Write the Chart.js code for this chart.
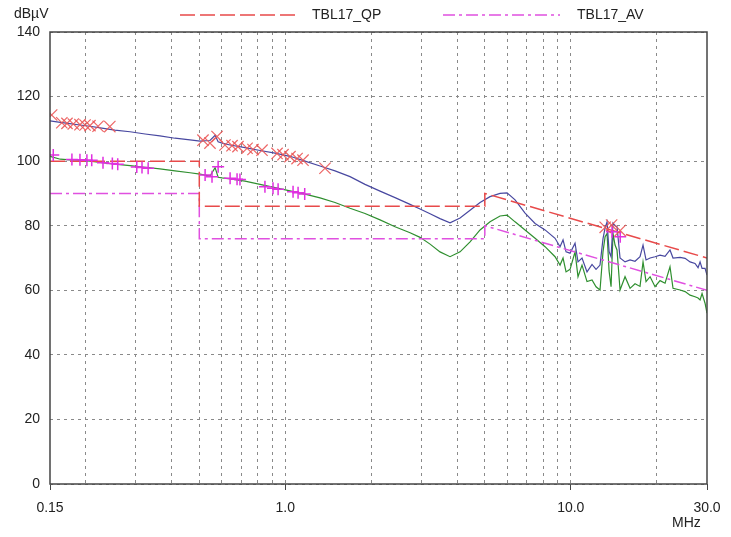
<!DOCTYPE html>
<html>
<head>
<meta charset="utf-8">
<script src="https://cdn.jsdelivr.net/npm/chart.js@4/dist/chart.umd.min.js"></script>
<style>
  html, body { margin: 0; padding: 0; background: #fff; }
  #wrap { position: relative; width: 731px; height: 537px; }
</style>
</head>
<body>
<div id="wrap"><canvas id="emi"></canvas></div>
<script>
// ==== data ====
// scan frequencies, MHz
const freqMHz = [
  0.150, 0.163, 0.176, 0.191, 0.207, 0.225, 0.253, 0.286, 0.323, 0.364,
  0.411, 0.464, 0.503, 0.545, 0.568, 0.582, 0.601, 0.641, 0.723, 0.816,
  0.921, 1.039, 1.173, 1.324, 1.494, 1.686, 1.903, 2.148, 2.424, 2.736,
  2.966, 3.215, 3.484, 3.777, 4.095, 4.439, 4.811, 5.215, 5.653, 5.982,
  6.381, 6.917, 7.499, 8.127, 8.810, 9.171, 9.396, 9.627, 9.943, 10.35,
  10.60, 10.95, 11.40, 11.87, 12.26, 12.66, 12.97, 13.19, 13.40, 13.62,
  13.84, 14.06, 14.29, 14.52, 14.88, 15.49, 16.13, 16.79, 17.48, 17.91,
  18.35, 18.96, 19.73, 20.54, 21.39, 22.26, 22.81, 24.15, 25.14, 26.17,
  27.24, 27.91, 28.37, 28.83, 29.53, 30.0
];
// blue trace (peak), dBµV
const peakDb = [
  112.5, 112.0, 111.6, 111.2, 110.8, 110.3, 109.6, 109.1, 108.4, 107.8,
  107.1, 106.6, 106.2, 106.4, 108.0, 106.0, 105.6, 105.0, 104.2, 103.3,
  102.5, 101.5, 100.0, 98.5, 97.0, 95.2, 92.8, 90.7, 88.7, 86.6,
  85.2, 83.7, 82.2, 80.9, 82.4, 84.8, 87.2, 89.0, 90.0, 90.2,
  88.0, 83.9, 80.7, 78.7, 76.1, 73.5, 75.6, 71.9, 71.5, 74.6,
  68.8, 70.0, 65.7, 68.0, 66.5, 67.8, 76.0, 79.3, 81.2, 72.0,
  70.4, 80.8, 80.0, 79.7, 70.0, 68.8, 69.4, 69.0, 70.4, 74.0,
  69.4, 70.0, 70.4, 70.9, 70.5, 72.5, 70.0, 70.2, 69.9, 68.8,
  68.3, 67.0, 68.8, 66.8, 66.8, 64.7
];
// green trace (average), dBµV
const avgDb = [
  101.5, 100.6, 100.4, 100.3, 100.0, 99.6, 99.1, 98.6, 98.1, 97.6,
  97.0, 96.4, 96.0, 95.4, 98.0, 95.0, 94.8, 94.5, 93.8, 92.8,
  91.8, 90.8, 89.8, 88.6, 87.2, 85.4, 83.8, 81.8, 79.7, 77.8,
  76.4, 74.3, 71.9, 70.4, 71.9, 75.0, 78.7, 81.2, 83.0, 83.3,
  81.2, 78.7, 76.1, 73.5, 70.4, 67.8, 70.0, 65.7, 66.5, 71.9,
  64.2, 67.8, 62.7, 63.2, 61.1, 60.1, 72.0, 76.6, 77.6, 66.0,
  61.1, 77.6, 74.0, 72.5, 60.1, 64.2, 60.6, 62.0, 61.2, 68.8,
  62.7, 64.2, 61.1, 63.0, 62.2, 67.3, 60.6, 60.1, 59.6, 58.5,
  58.0, 57.6, 57.0, 59.0, 56.0, 52.9
];

// limit lines
const qpLimitFreq = [0.15, 0.5, 0.5, 5, 5, 30];
const qpLimitDb   = [100, 100, 86, 86, 90, 70];
const avLimitFreq = [0.15, 0.5, 0.5, 5, 5, 30];
const avLimitDb   = [90, 90, 76, 76, 80, 60];

// final measurement markers
const qpMarkFreq = [0.152, 0.165, 0.172, 0.181, 0.191, 0.199, 0.207, 0.221, 0.243,
  0.515, 0.545, 0.577, 0.615, 0.651, 0.683, 0.735, 0.771, 0.829, 0.936,
  0.982, 1.039, 1.100, 1.154, 1.378, 13.2, 13.9, 14.9];
const qpMarkDb = [114.3, 111.9, 111.7, 111.5, 111.3, 111.2, 111.0, 110.8, 110.7,
  106.5, 105.6, 107.6, 105.0, 104.8, 104.5, 104.0, 103.6, 103.4, 102.4,
  102.0, 101.4, 100.8, 100.3, 97.8, 79.5, 80.2, 78.5];
const avMarkFreq = [0.154, 0.179, 0.191, 0.202, 0.210, 0.230, 0.248, 0.259,
  0.302, 0.315, 0.331, 0.524, 0.554, 0.582, 0.641, 0.678, 0.694, 0.849,
  0.906, 0.944, 1.065, 1.109, 1.170, 13.95, 14.9];
const avMarkDb = [101.9, 100.5, 100.4, 100.3, 100.3, 99.5, 99.3, 99.0,
  98.2, 98.0, 97.8, 95.7, 95.2, 98.3, 94.7, 94.4, 94.3, 92.1,
  91.6, 91.3, 90.5, 90.2, 89.8, 78.1, 76.6];

// axis ticks
const xGridValues = [0.15, 0.2, 0.3, 0.4, 0.5, 0.6, 0.7, 0.8, 0.9, 1, 2, 3, 4, 5, 6, 7, 8, 9, 10, 20, 30];
const xTickValues = [0.15, 1, 10, 30];
const xTickText = ['0.15', '1.0', '10.0', '30.0'];

const pts = (xs, ys) => xs.map((x, i) => ({ x, y: ys[i] }));
const labelIdx = v => xTickValues.findIndex(t => Math.abs(t - v) < 1e-6);

Chart.defaults.font.family = '"Liberation Sans", Arial, sans-serif';
Chart.defaults.font.size = 14;
Chart.defaults.color = '#222';

// frame + unit captions
const framePlugin = {
  id: 'frame',
  afterDraw(chart) {
    const { ctx, chartArea: a } = chart;
    ctx.save();
    ctx.strokeStyle = '#444';
    ctx.lineWidth = 1.5;
    ctx.strokeRect(a.left, a.top, a.right - a.left, a.bottom - a.top);
    ctx.fillStyle = '#222';
    ctx.font = '14px "Liberation Sans", Arial, sans-serif';
    ctx.textBaseline = 'middle';
    ctx.textAlign = 'left';
    ctx.fillText('dBµV', 14, 14);
    ctx.fillText('MHz', 672, 523);
    ctx.restore();
  }
};

// legend strip above the plot, only for the limit lines
const legendPlugin = {
  id: 'topLegend',
  afterDraw(chart) {
    const ctx = chart.ctx;
    const slots = [{ x0: 180, x1: 295, tx: 312 }, { x0: 443, x1: 560, tx: 577 }];
    const items = chart.data.datasets.filter(d => d.inLegend);
    ctx.save();
    items.forEach((d, i) => {
      const s = slots[i];
      ctx.strokeStyle = d.borderColor;
      ctx.lineWidth = d.borderWidth;
      ctx.setLineDash(d.borderDash || []);
      ctx.beginPath(); ctx.moveTo(s.x0, 15); ctx.lineTo(s.x1, 15); ctx.stroke();
      ctx.setLineDash([]);
      ctx.fillStyle = '#222';
      ctx.font = '14px "Liberation Sans", Arial, sans-serif';
      ctx.textBaseline = 'middle';
      ctx.fillText(d.label, s.tx, 15);
    });
    ctx.restore();
  }
};

new Chart(document.getElementById('emi'), {
  type: 'line',
  data: {
    datasets: [
      { label: 'QP marks', data: pts(qpMarkFreq, qpMarkDb), showLine: false,
        pointStyle: 'crossRot', pointRadius: 8, borderColor: 'rgba(235,85,85,0.9)', borderWidth: 1.2 },
      { label: 'AV marks', data: pts(avMarkFreq, avMarkDb), showLine: false,
        pointStyle: 'cross', pointRadius: 6, borderColor: '#e030e0', borderWidth: 1.5 },
      { label: 'TBL17_QP', inLegend: true, data: pts(qpLimitFreq, qpLimitDb),
        borderColor: '#e84a4a', borderWidth: 1.5, borderDash: [15, 5], pointRadius: 0, tension: 0 },
      { label: 'TBL17_AV', inLegend: true, data: pts(avLimitFreq, avLimitDb),
        borderColor: '#e050e0', borderWidth: 1.5, borderDash: [12, 4, 3, 4], pointRadius: 0, tension: 0 },
      { label: 'Peak', data: pts(freqMHz, peakDb),
        borderColor: '#4848a0', borderWidth: 1.2, pointRadius: 0, tension: 0 },
      { label: 'Average', data: pts(freqMHz, avgDb),
        borderColor: '#2f8f2f', borderWidth: 1.2, pointRadius: 0, tension: 0 }
    ]
  },
  options: {
    responsive: true, maintainAspectRatio: false, animation: false,
    layout: { padding: { top: 32, right: 24, left: 0, bottom: 0 } },
    plugins: { legend: { display: false }, tooltip: { enabled: false } },
    scales: {
      x: {
        type: 'logarithmic', min: 0.15, max: 30,
        afterBuildTicks: s => { s.ticks = xGridValues.map(v => ({ value: v })); },
        afterFit: s => { s.height = 53; },
        ticks: {
          autoSkip: false, maxRotation: 0, padding: 10,
          callback: v => { const i = labelIdx(v); return i >= 0 ? xTickText[i] : ''; }
        },
        grid: {
          color: c => (c.tick && (c.tick.value === 0.15 || c.tick.value === 30)) ? 'transparent' : '#8a8a8a',
          lineWidth: 1, drawTicks: true, tickLength: 6,
          tickColor: c => (c.tick && labelIdx(c.tick.value) >= 0) ? '#444' : 'transparent'
        },
        border: { display: false, dash: [3, 4] }
      },
      y: {
        min: 0, max: 140,
        afterFit: s => { s.width = 50; },
        ticks: { stepSize: 20, padding: 10 },
        grid: { color: '#8a8a8a', lineWidth: 1, drawTicks: false },
        border: { display: false, dash: [3, 4] }
      }
    }
  },
  plugins: [framePlugin, legendPlugin]
});
</script>
</body>
</html>
